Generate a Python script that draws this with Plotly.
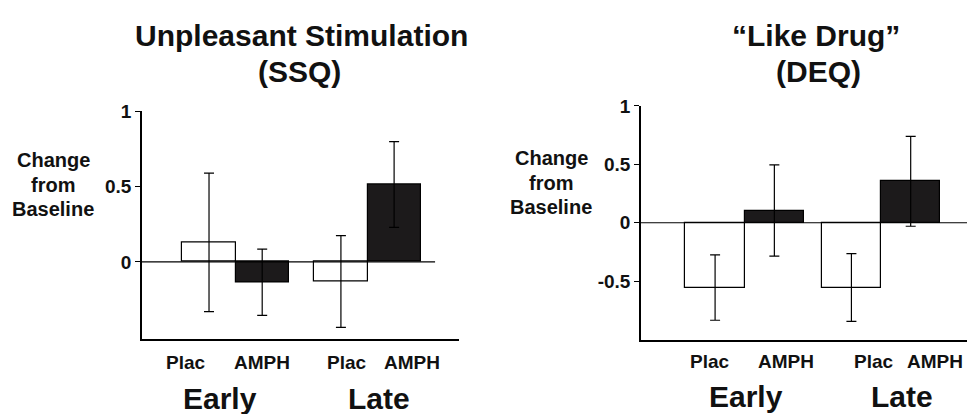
import plotly.graph_objects as go

# ---- data ----
conditions = ["Plac", "AMPH", "Plac", "AMPH"]
phases = ["Early", "Late"]
drug = ["Plac", "AMPH", "Plac", "AMPH"]

ssq_mean = [0.13, -0.135, -0.13, 0.515]
ssq_err = [0.46, 0.22, 0.305, 0.285]

deq_mean = [-0.555, 0.105, -0.555, 0.355]
deq_err = [0.28, 0.39, 0.29, 0.385]

ssq_ticks = [0, 0.5, 1]
deq_ticks = [-0.5, 0, 0.5, 1]

# ---- layout helpers ----
W, H = 970, 414
FONT = "Liberation Sans, Arial, Helvetica, sans-serif"


def px(x):
    return x / W


def py(y):
    return 1 - y / H


# bar positions in axis units (bar width = 1)
left_pos = [1.26, 2.26, 3.74, 4.74]
right_pos = [1.25, 2.25, 3.55, 4.55]

colors = ["white" if d == "Plac" else "#1c1a1b" for d in drug]

fig = go.Figure()

fig.add_trace(go.Bar(
    x=left_pos, y=ssq_mean, width=1.0,
    marker=dict(color=colors, line=dict(color="black", width=1.2)),
    error_y=dict(type="data", array=ssq_err, visible=True, color="black", thickness=1.2, width=5),
    xaxis="x", yaxis="y", showlegend=False, hoverinfo="y",
))
fig.add_trace(go.Bar(
    x=right_pos, y=deq_mean, width=1.0,
    marker=dict(color=colors, line=dict(color="black", width=1.2)),
    error_y=dict(type="data", array=deq_err, visible=True, color="black", thickness=1.2, width=5),
    xaxis="x2", yaxis="y2", showlegend=False, hoverinfo="y",
))

axis_common = dict(showgrid=False, zeroline=False, showline=True, linecolor="black", linewidth=1.5)

fig.update_layout(
    width=W, height=H,
    margin=dict(l=0, r=0, t=0, b=0),
    paper_bgcolor="white", plot_bgcolor="white",
    font=dict(family=FONT, color="#111"),
    xaxis=dict(domain=[px(142), px(459)], range=[0, 5.96], showticklabels=False, ticks="",
               anchor="y", **axis_common),
    yaxis=dict(domain=[py(337.5), py(104)], range=[-0.515, 1.0], tickvals=ssq_ticks,
               ticktext=[f"{t:g}" for t in ssq_ticks], ticks="outside", ticklen=5, tickcolor="black",
               tickfont=dict(family=FONT, size=19, color="#111", weight="bold"), anchor="x",
               **axis_common),
    xaxis2=dict(domain=[px(641), px(967)], range=[0, 5.5], showticklabels=False, ticks="",
                anchor="y2", **axis_common),
    yaxis2=dict(domain=[py(337.7), py(98.3)], range=[-1.0, 1.0], tickvals=deq_ticks,
                ticktext=[f"{t:g}" for t in deq_ticks], ticks="outside", ticklen=5, tickcolor="black",
                tickfont=dict(family=FONT, size=19, color="#111", weight="bold"), anchor="x2",
                **axis_common),
    bargap=0,
)

# zero lines
fig.add_shape(type="line", xref="x", yref="y", x0=0, x1=5.51, y0=0, y1=0,
              line=dict(color="black", width=1.2))
fig.add_shape(type="line", xref="x2", yref="y2", x0=0, x1=5.5, y0=0, y1=0,
              line=dict(color="black", width=1.2))

ann = []


def text(x, y, s, size, anchor="center"):
    ann.append(dict(x=px(x), y=py(y), xref="paper", yref="paper", text=s, showarrow=False,
                    xanchor=anchor, yanchor="middle",
                    font=dict(family=FONT, size=size, color="#111", weight="bold")))


# titles
text(301, 26, "Unpleasant Stimulation", 30)
text(299, 63, "(SSQ)", 30)
text(816, 26, "\u201cLike Drug\u201d", 30)
text(818, 63, "(DEQ)", 30)

# y-axis labels
for i, s in enumerate(["Change", "from", "Baseline"]):
    text(53, 154 + 25 * i, s, 20)
    text(551, 152 + 25 * i, s, 20)

# condition labels
for xx, s in zip([186, 262, 347, 412], conditions):
    text(xx, 361, s, 19)
for xx, s in zip([710, 786, 874, 935], conditions):
    text(xx, 360, s, 19)

# phase labels
for xx, s in zip([220, 379], phases):
    text(xx, 398, s, 30)
for xx, s in zip([746, 902], phases):
    text(xx, 396, s, 30)

fig.update_layout(annotations=ann)

fig.write_html("out.html", config={"displayModeBar": False},
               post_script="document.body.style.margin='0';document.body.style.overflow='hidden';")
